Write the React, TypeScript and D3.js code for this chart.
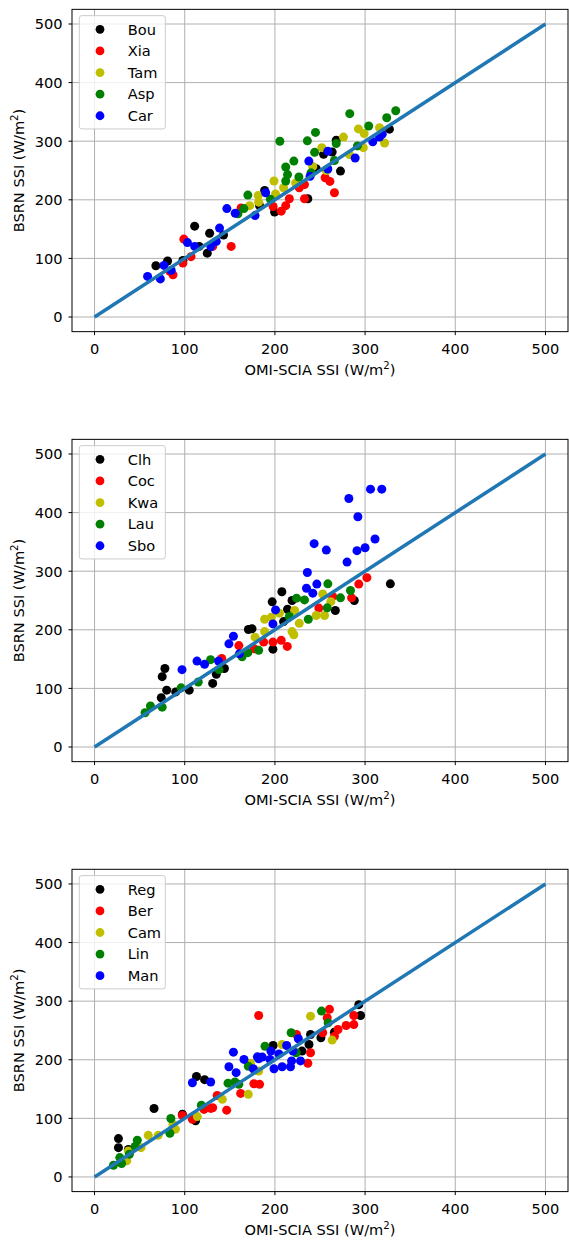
import React from "react";
import * as d3 from "d3";

const ticks = [0, 100, 200, 300, 400, 500];

// Panel 1
const p1Names = ["Bou", "Xia", "Tam", "Asp", "Car"];
const p1BouX = [68, 81, 98, 111, 116, 125, 127.6, 143, 183, 188.6, 199.6, 236.5, 245.8, 254, 263.5, 268, 272.7, 327];
const p1BouY = [87.5, 95.5, 96.6, 155, 120.5, 109, 143, 140, 190, 216, 179, 201.7, 253, 277.7, 281.6, 301.7, 249, 320.6];
const p1XiaX = [83.5, 87, 98, 99, 107, 131, 151.5, 162.5, 198, 207, 212, 216, 227, 232.8, 232.8, 255.7, 261, 266];
const p1XiaY = [78, 72, 92, 133, 103, 120.5, 120.5, 186, 188.6, 180.6, 190, 201.7, 220.6, 201.7, 226, 237.7, 231.4, 212];
const p1TamX = [172, 181.5, 182, 199, 200.7, 209.6, 223, 242, 252, 257, 276, 282.7, 292.6, 298, 299, 316, 321.6];
const p1TamY = [190, 207.4, 196, 232, 210, 220.6, 228.6, 257, 289, 250, 307, 277, 321, 289, 313, 323, 297];
const p1AspX = [159, 165.6, 170, 195, 205.5, 212, 212, 214, 221, 226.6, 236, 240, 244, 245, 266, 268, 283, 291.5, 304, 324, 334];
const p1AspY = [176, 185, 208, 201, 300, 232, 256, 243, 266, 239, 300.6, 246, 281, 315, 267, 296, 347, 292, 326, 340, 352];
const p1CarX = [58.8, 73, 77, 85, 103, 111, 129, 135, 138.6, 146.7, 156, 178, 189.7, 237.6, 239, 258.7, 258.7, 289, 308.5, 316, 319];
const p1CarY = [69.3, 65, 88, 79.5, 127, 120.5, 120, 129, 151.7, 185, 177, 173, 212, 266, 240, 283, 252.6, 271.4, 299, 307, 312];

// Panel 2
const p2Names = ["Clh", "Coc", "Kwa", "Lau", "Sbo"];
const p2ClhX = [74, 75, 78, 80, 90, 105, 131, 135, 144, 170.6, 174.6, 197, 197.8, 207.7, 209.6, 214, 219, 267, 288, 328];
const p2ClhY = [84, 120, 134, 97, 94, 97, 108.5, 124, 134, 200.6, 201.7, 247.7, 167, 265, 214, 235, 250, 233, 250, 278.4];
const p2CocX = [141, 160, 177, 187.5, 197.8, 207, 213.7, 248.7, 264, 285, 293, 302];
const p2CocY = [151, 173, 167.6, 179, 179, 182, 171.6, 237, 257, 254.5, 278, 289];
const p2KwaX = [178, 188.6, 188.6, 196, 205, 219, 221, 221.8, 227, 245.8, 253, 255, 262];
const p2KwaY = [187.5, 197, 218, 221.6, 228.4, 197, 191.5, 232.9, 211, 224.4, 261, 224.4, 248];
const p2LauX = [56, 62, 75, 96, 115, 128.7, 138, 163.6, 170, 182, 216, 224, 232.8, 237, 258, 258.7, 272.7, 283.8];
const p2LauY = [58.5, 70, 68, 101, 111, 149, 132, 154, 161, 165, 222.7, 254, 251, 218, 237.5, 278.4, 254.5, 267];
const p2SboX = [97, 113.6, 122, 137.5, 149, 154, 160.6, 197.8, 200.7, 235, 236, 242, 243.5, 246.5, 257, 280, 282, 291, 292, 300, 306, 311, 318.5];
const p2SboY = [132, 146.6, 141, 146.6, 176, 189, 159, 210, 234, 271, 297.7, 262.5, 347, 278, 336, 315.6, 424, 335, 393, 340, 440, 355, 440];

// Panel 3
const p3Names = ["Reg", "Ber", "Cam", "Lin", "Man"];
const p3RegX = [26.5, 26.5, 37.5, 66, 97.4, 112, 113, 122, 198, 230, 237.8, 239.5, 251, 266, 293, 295];
const p3RegY = [65.5, 50, 47, 116.8, 107, 95.7, 171.5, 166, 224.4, 214.8, 226, 243, 237.5, 247, 294, 275.6];
const p3BerX = [97.4, 108.5, 121.4, 128.8, 131, 136, 146.5, 162, 176.7, 182, 183, 224, 236.5, 239.5, 253, 258, 260.5, 266, 270, 279, 287.5, 287.5];
const p3BerY = [105, 98.3, 115.3, 117, 118, 139, 114, 142.6, 159, 275.6, 158, 243, 194, 212, 246, 271.6, 286, 240, 251.7, 258.5, 275.6, 260];
const p3CamX = [35.7, 37.5, 51.5, 59.6, 70.6, 86, 87, 89.7, 114, 141.7, 170.5, 173, 182, 208, 239.5, 263.5];
const p3CamY = [27.4, 44.4, 50, 71, 71, 81, 90, 81.5, 103, 132.4, 141, 194, 180.7, 226, 274.4, 233.5];
const p3LinX = [21, 28, 30, 38.6, 45, 47.4, 83.5, 84.6, 118.4, 148, 155.7, 160, 170.5, 189, 218, 223.6, 251.7, 259];
const p3LinY = [20, 33, 23, 38.7, 52, 62.7, 74.6, 99.7, 122.5, 160, 162, 158, 189, 223, 246, 212, 283, 263];
const p3ManX = [108.5, 128.8, 149, 154, 157, 165.7, 176, 180.6, 182, 186, 194.5, 195.5, 199, 204.4, 208, 213, 217.3, 218.5, 220, 226, 228.4];
const p3ManY = [160.8, 162, 188, 213, 178, 200.6, 184.7, 205, 201.7, 204.5, 200.6, 214.8, 184.7, 210, 188, 224.4, 188, 198, 214.8, 235.8, 198];

const seriesColors = ["#000000", "#ff0000", "#bfbf00", "#008000", "#0000ff"];
const lineX = [0, 500];
const lineY = [0, 500];

const panels = [
  { names: p1Names, xs: [p1BouX, p1XiaX, p1TamX, p1AspX, p1CarX], ys: [p1BouY, p1XiaY, p1TamY, p1AspY, p1CarY] },
  { names: p2Names, xs: [p2ClhX, p2CocX, p2KwaX, p2LauX, p2SboX], ys: [p2ClhY, p2CocY, p2KwaY, p2LauY, p2SboY] },
  { names: p3Names, xs: [p3RegX, p3BerX, p3CamX, p3LinX, p3ManX], ys: [p3RegY, p3BerY, p3CamY, p3LinY, p3ManY] },
];

const W = 569;
const H = 1243;
const left = 72;
const right = 568;
const panelTops = [9.35, 439.35, 869.3];
const panelH = 322.3;
const font = "'DejaVu Sans', sans-serif";
const fs = 14.6;

function Label({ x, y, text, rotate }: { x: number; y: number; text: string; rotate?: boolean }) {
  return (
    <text
      x={x}
      y={y}
      textAnchor="middle"
      fontFamily={font}
      fontSize={fs}
      fill="#000"
      transform={rotate ? `rotate(-90 ${x} ${y})` : undefined}
    >
      {text}
      <tspan dy={-6} fontSize={10.2}>2</tspan>
      <tspan dy={6}>)</tspan>
    </text>
  );
}

function Panel({ idx }: { idx: number }) {
  const p = panels[idx];
  const top = panelTops[idx];
  const bottom = top + panelH;
  const x = d3.scaleLinear().domain([-25, 525]).range([left, right]);
  const y = d3.scaleLinear().domain([-25, 525]).range([bottom, top]);
  const line = d3
    .line<number>()
    .x((_, i) => x(lineX[i]))
    .y((_, i) => y(lineY[i]));
  const legX = left + 7.3;
  const legY = top + 6.3;
  return (
    <g>
      <defs>
        <clipPath id={`clip${idx}`}>
          <rect x={left} y={top} width={right - left} height={panelH} />
        </clipPath>
      </defs>
      {ticks.map((t) => (
        <line key={"gx" + t} x1={x(t)} x2={x(t)} y1={top} y2={bottom} stroke="#b0b0b0" strokeWidth={1} />
      ))}
      {ticks.map((t) => (
        <line key={"gy" + t} x1={left} x2={right} y1={y(t)} y2={y(t)} stroke="#b0b0b0" strokeWidth={1} />
      ))}
      <g clipPath={`url(#clip${idx})`}>
        {p.xs.map((xs, si) =>
          xs.map((v, i) => (
            <circle key={si + "-" + i} cx={x(v)} cy={y(p.ys[si][i])} r={4.5} fill={seriesColors[si]} />
          ))
        )}
        <path d={line(lineX) || ""} stroke="#1f77b4" strokeWidth={3.5} fill="none" />
      </g>
      <rect x={left} y={top} width={right - left} height={panelH} fill="none" stroke="#000" strokeWidth={1} />
      {ticks.map((t) => (
        <g key={"tx" + t}>
          <line x1={x(t)} x2={x(t)} y1={bottom} y2={bottom + 3.5} stroke="#000" strokeWidth={1} />
          <text x={x(t)} y={bottom + 22.3} textAnchor="middle" fontFamily={font} fontSize={fs}>
            {t}
          </text>
        </g>
      ))}
      {ticks.map((t) => (
        <g key={"ty" + t}>
          <line x1={left - 3.5} x2={left} y1={y(t)} y2={y(t)} stroke="#000" strokeWidth={1} />
          <text x={left - 9.5} y={y(t) + 5.3} textAnchor="end" fontFamily={font} fontSize={fs}>
            {t}
          </text>
        </g>
      ))}
      <Label x={(left + right) / 2} y={bottom + 43.3} text="OMI-SCIA SSI (W/m" />
      <Label x={23.6} y={(top + bottom) / 2} text="BSRN SSI (W/m" rotate />
      <rect x={legX} y={legY} width={86} height={113.3} rx={2.5} fill="#fff" fillOpacity={0.8} stroke="#cccccc" strokeWidth={1} />
      {p.names.map((n, i) => (
        <g key={n}>
          <circle cx={100} cy={top + 20 + i * 21.6} r={4.4} fill={seriesColors[i]} />
          <text x={127.7} y={top + 25.3 + i * 21.6} fontFamily={font} fontSize={fs}>
            {n}
          </text>
        </g>
      ))}
    </g>
  );
}

export default function App() {
  return (
    <svg
      width={W}
      height={H}
      viewBox={`0 0 ${W} ${H}`}
      style={{ position: "absolute", left: 0, top: 0, background: "#fff" }}
    >
      <rect x={0} y={0} width={W} height={H} fill="#fff" />
      {[0, 1, 2].map((i) => (
        <Panel key={i} idx={i} />
      ))}
    </svg>
  );
}
